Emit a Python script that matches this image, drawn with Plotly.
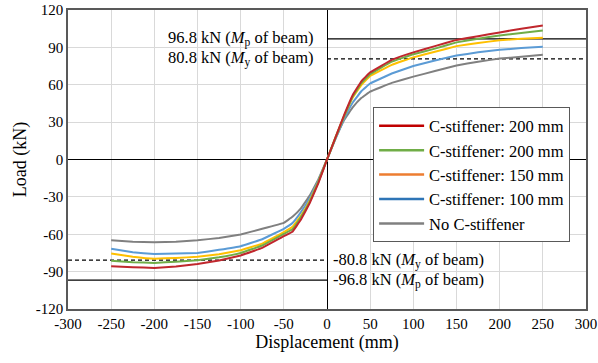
import plotly.graph_objects as go

# Displacement (mm)
x_neg = [-250, -225, -200, -175, -150, -125, -100, -75, -50, -40, -30, -20, -10, 0]
x_pos = [0, 10, 20, 30, 40, 50, 75, 100, 125, 150, 175, 200, 225, 250]

# Load (kN)
red_neg = [-85.6, -86.5, -87.0, -85.8, -83.8, -81.0, -77.0, -71.0, -61.5, -58.0, -48.0, -35.0, -19.0, 0]
red_pos = [0, 18, 36, 52, 63, 70, 80, 86, 91, 96, 99, 102, 105, 107.5]
green_neg = [-81.3, -82.5, -83.0, -82.0, -80.9, -78.5, -75.0, -69.0, -59.7, -56.0, -46.0, -34.0, -18.0, 0]
green_pos = [0, 18, 35, 51, 61.5, 68.5, 78.5, 84.5, 89, 94, 97, 99.5, 101.5, 103.5]
yellow_neg = [-75.4, -78.0, -79.6, -79.0, -78.1, -76.0, -72.8, -67.5, -58.3, -54.0, -45.0, -33.0, -18.0, 0]
yellow_pos = [0, 18, 35, 50, 60, 67, 76, 82, 86.5, 91, 93.5, 95.7, 97, 97.7]
blue_neg = [-71.7, -74.5, -75.8, -75.5, -75.0, -72.5, -69.6, -64.0, -55.6, -51.0, -42.0, -31.0, -17.0, 0]
blue_pos = [0, 17, 33, 46, 55, 61, 69, 75, 79.5, 83.5, 86, 88, 89.5, 90.5]
gray_neg = [-64.8, -66.0, -66.4, -66.0, -64.8, -63.0, -60.2, -55.6, -50.8, -46.0, -39.0, -29.0, -16.0, 0]
gray_pos = [0, 17, 32, 42, 49.5, 54.5, 61.5, 66.5, 71, 75.4, 78.5, 81, 82.5, 84]

names = ["C-stiffener: 200 mm", "C-stiffener: 200 mm", "C-stiffener: 150 mm",
         "C-stiffener: 100 mm", "No C-stiffener"]
line_colors = ["#C0272D", "#70AD47", "#FFC000", "#5B9BD5", "#808080"]
legend_colors = ["#C00000", "#70AD47", "#ED7D31", "#2E75B6", "#808080"]
series = [(red_neg, red_pos), (green_neg, green_pos), (yellow_neg, yellow_pos),
          (blue_neg, blue_pos), (gray_neg, gray_pos)]

x_ticks = [-300, -250, -200, -150, -100, -50, 0, 50, 100, 150, 200, 250, 300]
y_ticks = [-120, -90, -60, -30, 0, 30, 60, 90, 120]

# Reference beam capacities
mp_load = 96.8
my_load = 80.8

FONT = "Times New Roman"

fig = go.Figure()

# reference lines
fig.add_trace(go.Scatter(x=[0, 300], y=[mp_load, mp_load], mode="lines",
                         line=dict(color="black", width=1.2), showlegend=False, hoverinfo="skip"))
fig.add_trace(go.Scatter(x=[0, 300], y=[my_load, my_load], mode="lines",
                         line=dict(color="black", width=1.2, dash="4px,3px"), showlegend=False, hoverinfo="skip"))
fig.add_trace(go.Scatter(x=[-300, 0], y=[-my_load, -my_load], mode="lines",
                         line=dict(color="black", width=1.2, dash="4px,3px"), showlegend=False, hoverinfo="skip"))
fig.add_trace(go.Scatter(x=[-300, 0], y=[-mp_load, -mp_load], mode="lines",
                         line=dict(color="black", width=1.2), showlegend=False, hoverinfo="skip"))

# curves (draw gray first so red is on top)
for i in reversed(range(len(series))):
    neg, pos = series[i]
    xs = x_neg + x_pos[1:]
    ys = neg + pos[1:]
    fig.add_trace(go.Scatter(x=xs, y=ys, mode="lines",
                             line=dict(color=line_colors[i], width=2, shape="spline", smoothing=0.15),
                             showlegend=False))

# legend entries
for i in range(len(names)):
    fig.add_trace(go.Scatter(x=[None], y=[None], mode="lines", name=names[i],
                             line=dict(color=legend_colors[i], width=2.5)))

annots = [
    dict(x=0, y=mp_load, text=f"{mp_load} kN (<i>M</i><sub>p</sub> of beam)", xanchor="right", xshift=-11),
    dict(x=0, y=my_load, text=f"{my_load} kN (<i>M</i><sub>y</sub> of beam)", xanchor="right", xshift=-11),
    dict(x=0, y=-my_load, text=f"-{my_load} kN (<i>M</i><sub>y</sub> of beam)", xanchor="left", xshift=4),
    dict(x=0, y=-mp_load, text=f"-{mp_load} kN (<i>M</i><sub>p</sub> of beam)", xanchor="left", xshift=4),
]
for a in annots:
    fig.add_annotation(xref="x", yref="y", showarrow=False, yanchor="middle",
                       font=dict(family=FONT, size=16.5, color="black"), **a)

fig.update_layout(
    width=598, height=363,
    margin=dict(l=68, r=12, t=10, b=54, autoexpand=False),
    paper_bgcolor="white", plot_bgcolor="white",
    font=dict(family=FONT, size=15, color="black"),
    legend=dict(x=0.589, y=0.674, xanchor="left", yanchor="top",
                bordercolor="#595959", borderwidth=1, bgcolor="white",
                itemwidth=45,
                font=dict(family=FONT, size=16.5), tracegroupgap=0),
)
fig.update_xaxes(range=[-300, 300], tickvals=x_ticks, ticktext=[str(v) for v in x_ticks],
                 showgrid=True, gridcolor="#D9D9D9", automargin=False,
                 zeroline=True, zerolinecolor="black", zerolinewidth=1,
                 showline=True, mirror=True, linecolor="#595959", linewidth=1.5,
                 ticks="", title=dict(text="Displacement (mm)", standoff=4),
                 tickfont=dict(family=FONT, size=15))
fig.update_yaxes(range=[-120, 120], tickvals=y_ticks, ticktext=[str(v) for v in y_ticks],
                 showgrid=True, gridcolor="#D9D9D9", automargin=False,
                 zeroline=True, zerolinecolor="black", zerolinewidth=1,
                 showline=True, mirror=True, linecolor="#595959", linewidth=1.5,
                 ticks="", title=dict(text="Load (kN)", standoff=4),
                 tickfont=dict(family=FONT, size=15))

fig.write_html("out.html")
